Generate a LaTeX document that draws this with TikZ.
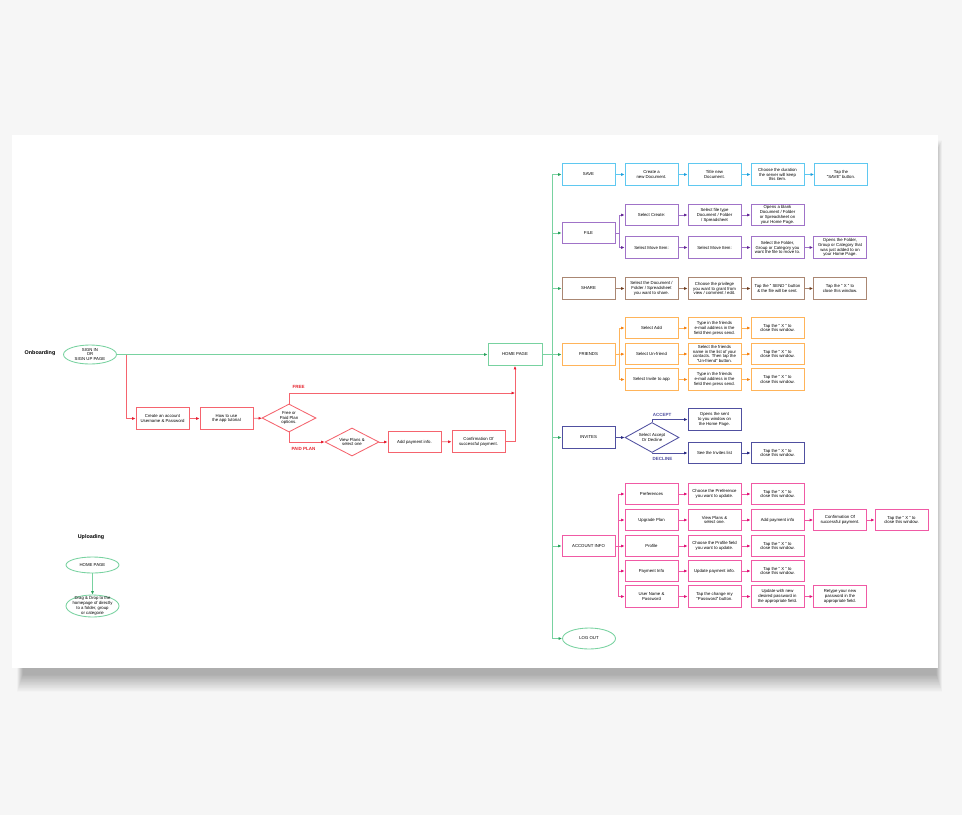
\documentclass[tikz,border=0pt]{standalone}
\usepackage{fontspec}
\setmainfont{Liberation Sans}
\usetikzlibrary{arrows.meta,shapes.geometric}

\definecolor{pagebg}{RGB}{246,246,246}
\definecolor{gline}{RGB}{120,210,160}
\definecolor{gtip}{RGB}{40,160,90}
\definecolor{rline}{RGB}{245,100,110}
\definecolor{rtip}{RGB}{230,30,50}
\definecolor{rtext}{RGB}{230,35,45}
\definecolor{cline}{RGB}{95,200,240}
\definecolor{ctip}{RGB}{30,160,220}
\definecolor{pline}{RGB}{160,115,200}
\definecolor{ptip}{RGB}{100,40,150}
\definecolor{bline}{RGB}{170,135,115}
\definecolor{btip}{RGB}{110,60,30}
\definecolor{oline}{RGB}{255,180,90}
\definecolor{otip}{RGB}{245,130,20}
\definecolor{nline}{RGB}{80,80,160}
\definecolor{ntip}{RGB}{40,40,130}
\definecolor{kline}{RGB}{240,90,165}
\definecolor{ktip}{RGB}{225,20,120}

\tikzset{
  txt/.style={font=\fontsize{4.3}{4.9}\selectfont, align=center, text=black},
  box/.style={txt, draw, rectangle, line width=0.85pt, minimum width=53pt,
    minimum height=21.5pt, inner sep=0.5pt, fill=white},
  oval/.style={txt, draw, ellipse, line width=0.85pt, minimum width=53pt,
    inner sep=0pt, fill=white},
  choice/.style={txt, draw, diamond, aspect=2, line width=0.85pt,
    minimum width=54pt, minimum height=28pt, inner sep=0pt, fill=white},
  link/.style 2 args={draw=#1, line width=0.75pt,
    -{Latex[length=3.4pt,width=3pt,color=#2]}},
  head/.style={font=\fontsize{5.4}{6}\selectfont\bfseries},
  tag/.style={font=\fontsize{4.5}{5}\selectfont\bfseries},
  gbox/.style={box, draw=gline}, glink/.style={link={gline}{gtip}},
  rbox/.style={box, draw=rline}, rlink/.style={link={rline}{rtip}},
  cbox/.style={box, draw=cline}, clink/.style={link={cline}{ctip}},
  pbox/.style={box, draw=pline}, plink/.style={link={pline}{ptip}},
  bbox/.style={box, draw=bline}, blink/.style={link={bline}{btip}},
  obox/.style={box, draw=oline}, olink/.style={link={oline}{otip}},
  nbox/.style={box, draw=nline}, nlink/.style={link={nline}{ntip}},
  kbox/.style={box, draw=kline}, klink/.style={link={kline}{ktip}},
}

\newcommand{\closewin}{Tap the `` X '' to\\close this window.}

\begin{document}
\begin{tikzpicture}[x=1pt, y=-1pt]
\useasboundingbox (0,0) rectangle (962,815);
\fill[pagebg] (0,0) rectangle (962,815);
% soft drop shadow under the sheet
\foreach \i in {0,...,23} {
  \fill[black, opacity=0.0125] (17+\i*0.25, 140+\i*0.5) rectangle (942-\i*0.25, 692-\i*0.75);
}
\fill[white] (12,135) rectangle (938,668);

% ---------- Onboarding ----------
\node[head] (onb) at (40,353) {Onboarding};
\node[oval, draw=gline, minimum height=19pt] (signin) at (90,354.5)
  {SIGN IN\\OR\\SIGN UP PAGE};
\node[gbox, minimum width=54pt, minimum height=22pt] (home) at (515,354.5) {HOME PAGE};
\node[rbox] (create) at (162.5,418.5) {Create an account\\Username \& Password};
\node[rbox] (howto) at (226.5,418.5) {How to use\\the app tutorial};
\node[choice, draw=rline] (plan) at (289,418) {Free or\\Paid Plan\\options.};
\node[choice, draw=rline] (viewplan) at (352,442) {View Plans \&\\select one};
\node[rbox] (addpay) at (414.5,442) {Add payment info.};
\node[rbox] (confirm) at (478.5,441.5) {Confirmation Of\\successful payment.};

\coordinate (split) at (126,354.5);
\coordinate (freeend) at (515,393);

\draw[glink] (signin.east) -- (home.west);
\draw[rlink] (split) |- (create.west);
\draw[rlink] (create) -- (howto);
\draw[rlink] (howto) -- (plan);
\draw[rlink] (plan.north) |- (freeend);
\node[tag, text=rtext, anchor=south west] (freetag) at (289,392) {FREE};
\draw[rlink] (plan.south) |- (viewplan.west);
\node[tag, text=rtext, anchor=north west] (paidtag) at (288,443.5) {PAID PLAN};
\draw[rlink] (viewplan) -- (addpay);
\draw[rlink] (addpay) -- (confirm);
\draw[rlink] (confirm.east) -| (home.south);

% ---------- Main menu trunk ----------
\coordinate (trunktop) at (552,174.5);
\coordinate (trunkbot) at (552,638.5);
\draw[gline, line width=0.75pt] (trunktop) -- (trunkbot);

% SAVE
\node[cbox] (save) at (588.5,174.5) {SAVE};
\node[cbox] (save2) at (651.5,174.5) {Create a\\new Document.};
\node[cbox] (save3) at (714.5,174.5) {Title new\\Document.};
\node[cbox] (save4) at (777.5,174.5) {Choose the duration\\the server will keep\\this item.};
\node[cbox] (save5) at (841,174.5) {Tap the\\``SAVE'' button.};
\draw[clink] (save) -- (save2);
\draw[clink] (save2) -- (save3);
\draw[clink] (save3) -- (save4);
\draw[clink] (save4) -- (save5);

% FILE
\node[pbox] (file) at (588.5,233) {FILE};
\node[pbox] (fcreate) at (651.5,215) {Select Create:};
\node[pbox] (fmove) at (651.5,247.5) {Select Move Item:};
\node[pbox] (ftype) at (714.5,215) {Select file type\\Document / Folder\\/ Spreadsheet};
\node[pbox] (fmove2) at (714.5,247.5) {Select Move Item:};
\node[pbox] (fblank) at (777.5,215) {Opens a blank\\Document / Folder\\or Spreadsheet on\\your Home Page.};
\node[pbox] (fdest) at (777.5,247.5) {Select the Folder,\\Group or Category you\\want the file to move to.};
\node[pbox] (fopen) at (840,247.5) {Opens the Folder,\\Group or Category that\\was just added to on\\your Home Page.};
\draw[plink] (file.east) -- ++(4,0) |- (fcreate.west);
\draw[plink] (file.east) -- ++(4,0) |- (fmove.west);
\draw[plink] (fcreate) -- (ftype);
\draw[plink] (ftype) -- (fblank);
\draw[plink] (fmove) -- (fmove2);
\draw[plink] (fmove2) -- (fdest);
\draw[plink] (fdest) -- (fopen);

% SHARE
\node[bbox] (share) at (588.5,288.5) {SHARE};
\node[bbox] (share2) at (651.5,288.5) {Select the Document /\\Folder / Spreadsheet\\you want to share.};
\node[bbox] (share3) at (714.5,288.5) {Choose the privilege\\you want to grant from\\view / comment / edit.};
\node[bbox] (share4) at (777.5,288.5) {Tap the `` SEND '' button\\\& the file will be sent.};
\node[bbox] (share5) at (840,288.5) {\closewin};
\draw[blink] (share) -- (share2);
\draw[blink] (share2) -- (share3);
\draw[blink] (share3) -- (share4);
\draw[blink] (share4) -- (share5);

% FRIENDS
\node[obox] (friends) at (588.5,354.5) {FRIENDS};
\node[obox] (fradd) at (651.5,328) {Select Add};
\node[obox] (frunf) at (651.5,354) {Select Un-friend};
\node[obox] (frinv) at (651.5,379.5) {Select Invite to app};
\node[obox] (fradd2) at (714.5,328) {Type in the friends\\e-mail address in the\\field then press send.};
\node[obox] (frunf2) at (714.5,354) {Select the friends\\name in the list of your\\contacts. Then tap the\\``Un-friend'' button.};
\node[obox] (frinv2) at (714.5,379.5) {Type in the friends\\e-mail address in the\\field then press send.};
\node[obox] (fradd3) at (777.5,328) {\closewin};
\node[obox] (frunf3) at (777.5,354) {\closewin};
\node[obox] (frinv3) at (777.5,379.5) {\closewin};
\draw[glink] (home.east) -- (friends.west);
\draw[olink] (friends.east) -- ++(4,0) |- (fradd.west);
\draw[olink] (friends.east) -- (frunf.west);
\draw[olink] (friends.east) -- ++(4,0) |- (frinv.west);
\foreach \r in {fradd,frunf,frinv} {
  \draw[olink] (\r) -- (\r2);
  \draw[olink] (\r2) -- (\r3);
}

% INVITES
\node[nbox] (invites) at (588.5,437.5) {INVITES};
\node[choice, draw=nline, minimum height=30pt] (decide) at (652,437.5) {Select Accept\\Or Decline};
\node[nbox] (iaccept) at (714.5,419.5) {Opens the sent\\to you window on\\the Home Page.};
\node[nbox] (idecline) at (714.5,453) {See the Invites list};
\node[nbox] (iclose) at (777.5,453) {\closewin};
\draw[nlink] (invites) -- (decide);
\draw[nlink] (decide.north) |- (iaccept.west);
\draw[nlink] (decide.south) |- (idecline.west);
\draw[nlink] (idecline) -- (iclose);
\node[tag, text=nline] (acctag) at (662,415) {ACCEPT};
\node[tag, text=nline] (dectag) at (662.5,458.5) {DECLINE};

% ACCOUNT INFO
\node[kbox] (acct) at (588.5,546) {ACCOUNT INFO};
\node[kbox] (apref) at (651.5,494) {Preferences};
\node[kbox] (aupg) at (651.5,520) {Upgrade Plan};
\node[kbox] (aprof) at (651.5,546) {Profile};
\node[kbox] (apay) at (651.5,571) {Payment Info};
\node[kbox] (auser) at (651.5,596.5) {User Name \&\\Password};
\node[kbox] (apref2) at (714.5,494) {Choose the Preference\\you want to update.};
\node[kbox] (aupg2) at (714.5,520) {View Plans \&\\select one.};
\node[kbox] (aprof2) at (714.5,546) {Choose the Profile field\\you want to update.};
\node[kbox] (apay2) at (714.5,571) {Update payment info.};
\node[kbox] (auser2) at (714.5,596.5) {Tap the change my\\``Password'' button.};
\node[kbox] (apref3) at (777.5,494) {\closewin};
\node[kbox] (aupg3) at (777.5,520) {Add payment info};
\node[kbox] (aprof3) at (777.5,546) {\closewin};
\node[kbox] (apay3) at (777.5,571) {\closewin};
\node[kbox] (auser3) at (777.5,596.5) {Update with new\\desired password in\\the appropriate field.};
\node[kbox] (aupg4) at (840,520) {Confirmation Of\\successful payment.};
\node[kbox] (auser4) at (840,596.5) {Retype your new\\password in the\\appropriate field.};
\node[kbox] (aupg5) at (901.5,520) {\closewin};
\foreach \r in {apref,aupg,apay,auser} {
  \draw[klink] (acct.east) -- ++(3,0) |- (\r.west);
}
\draw[klink] (acct.east) -- (aprof.west);
\foreach \r in {apref,aupg,aprof,apay,auser} {
  \draw[klink] (\r) -- (\r2);
  \draw[klink] (\r2) -- (\r3);
}
\draw[klink] (aupg3) -- (aupg4);
\draw[klink] (aupg4) -- (aupg5);
\draw[klink] (auser3) -- (auser4);

% LOG OUT
\node[oval, draw=gline, minimum height=21pt] (logout) at (589,638.5) {LOG OUT};

\foreach \n in {save,file,share,invites,acct,logout} {
  \draw[glink] (trunktop |- \n.west) -- (\n.west);
}

% ---------- Uploading ----------
\node[head] (upl) at (91,537) {Uploading};
\node[oval, draw=gline, minimum height=16pt] (uphome) at (92.5,565) {HOME PAGE};
\node[oval, draw=gline, minimum height=22pt, inner ysep=-5pt, inner xsep=-2pt]
  (drag) at (92.5,606) {Drag \& Drop to the\\homepage of directly\\to a folder, group\\or categorie};
\draw[glink] (uphome) -- (drag);
\end{tikzpicture}
\end{document}
